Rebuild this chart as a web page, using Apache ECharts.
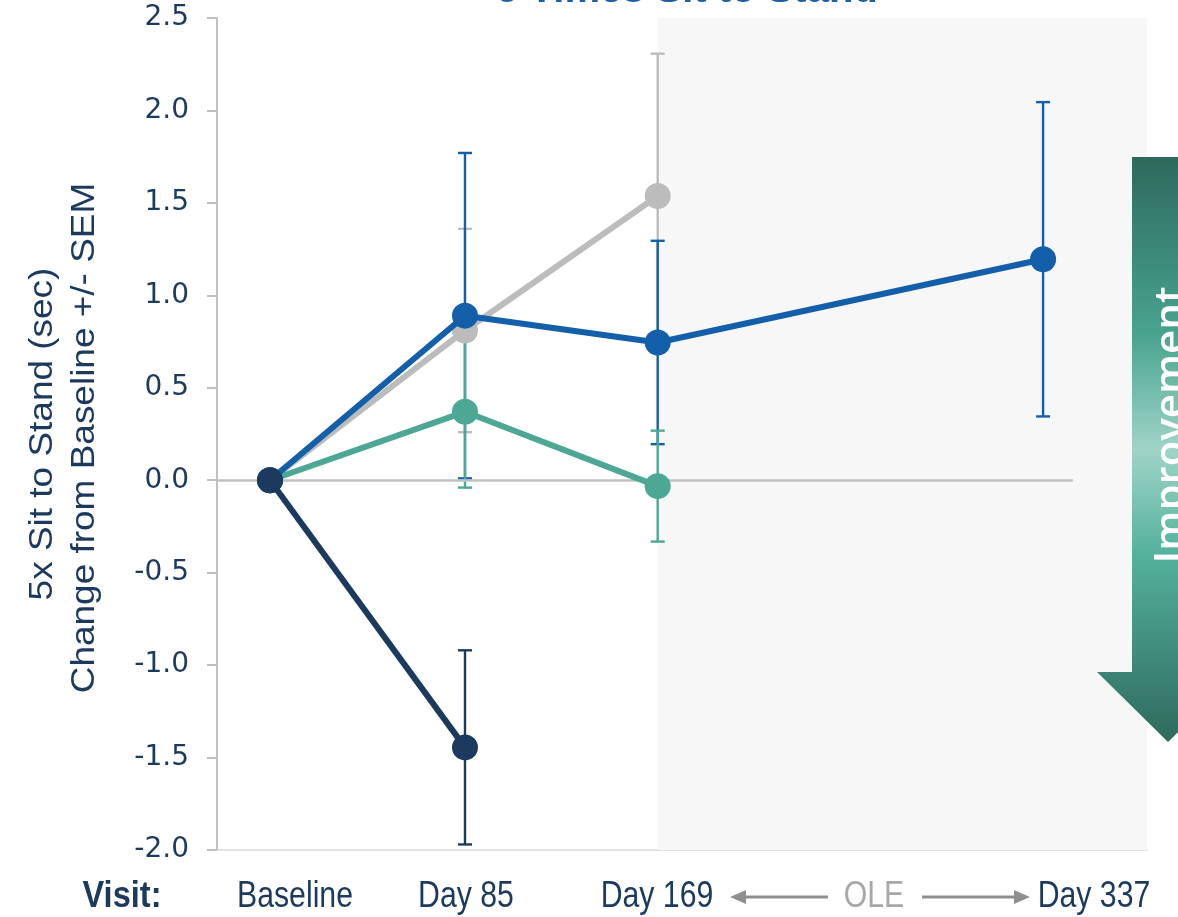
<!DOCTYPE html>
<html>
<head>
<meta charset="utf-8">
<script src="https://cdn.jsdelivr.net/npm/echarts@6/dist/echarts.min.js"></script>
<style>
  html, body { margin: 0; padding: 0; background: #ffffff; }
  #chart { width: 1178px; height: 917px; }
</style>
</head>
<body>
<div id="chart"></div>
<script>
// Visits (study day) and their labels
const visitDays = [0, 85, 169, 337];
const visitLabels = ['Baseline', 'Day 85', 'Day 169', 'Day 337'];
const oleStartDay = 169;

// Change from baseline (sec), mean and SEM per group
const navyMean = [0, -1.445];
const navySem  = [0, 0.525];
const blueMean = [0, 0.89, 0.745, 1.195];
const blueSem  = [0, 0.88, 0.55, 0.85];
const greyMean = [0, 0.81, 1.537];
const greySem  = [0, 0.55, 0.77];
const tealMean = [0, 0.37, -0.032];
const tealSem  = [0, 0.41, 0.30];

// Axis ranges
const yMin = -2.0, yMax = 2.5, yStep = 0.5;
const xMin = -23.1, xMax = 382.3, zeroLineEnd = 350;

const COL = {
  navy: '#1b3a5d',
  blue: '#145fa9',
  grey: '#bbbcbb',
  teal: '#4ca894',
  axis: '#c0c0c0',
  text: '#1b3a5d'
};

function points(mean) {
  return mean.map((v, i) => [visitDays[i], v]);
}
function bars(mean, sem) {
  return mean.map((v, i) => [visitDays[i], v - sem[i], v + sem[i]]).filter(d => d[2] > d[1]);
}

function errorSeries(name, mean, sem, color, z) {
  return {
    type: 'custom',
    name: name,
    z: z,
    silent: true,
    data: bars(mean, sem),
    renderItem: function (params, api) {
      const x = api.value(0);
      const lo = api.coord([x, api.value(1)]);
      const hi = api.coord([x, api.value(2)]);
      const cap = 7;
      const style = { stroke: color, lineWidth: 2.4 };
      return {
        type: 'group',
        children: [
          { type: 'line', shape: { x1: lo[0], y1: lo[1], x2: hi[0], y2: hi[1] }, style: style },
          { type: 'line', shape: { x1: hi[0] - cap, y1: hi[1], x2: hi[0] + cap, y2: hi[1] }, style: style },
          { type: 'line', shape: { x1: lo[0] - cap, y1: lo[1], x2: lo[0] + cap, y2: lo[1] }, style: style }
        ]
      };
    }
  };
}

function lineSeries(name, mean, color, z) {
  return {
    type: 'line',
    name: name,
    z: z,
    data: points(mean),
    symbol: 'circle',
    symbolSize: 26,
    silent: true,
    lineStyle: { color: color, width: 6 },
    itemStyle: { color: color },
    animation: false
  };
}

const chart = echarts.init(document.getElementById('chart'), null, { renderer: 'canvas' });

const gridLeft = 217, gridTop = 18, gridRight = 1178 - 1147, gridBottom = 917 - 850;

const option = {
  animation: false,
  backgroundColor: '#ffffff',
  grid: { left: gridLeft, top: gridTop, right: gridRight, bottom: gridBottom, containLabel: false },
  xAxis: {
    type: 'value',
    min: xMin,
    max: xMax,
    axisLine: { show: true, onZero: false, lineStyle: { color: '#d9d9d9', width: 1.5 } },
    axisTick: { show: false },
    axisLabel: { show: false },
    splitLine: { show: false }
  },
  yAxis: {
    type: 'value',
    min: yMin,
    max: yMax,
    interval: yStep,
    axisLine: { show: true, onZero: false, lineStyle: { color: COL.axis, width: 2 } },
    axisTick: { show: true, inside: false, length: 10, lineStyle: { color: COL.axis, width: 2 } },
    axisLabel: {
      margin: 28,
      fontFamily: 'DejaVu Sans',
      fontSize: 28,
      color: COL.text,
      formatter: v => v.toFixed(1)
    },
    splitLine: { show: false }
  },
  series: [
    {
      type: 'line',
      name: 'OLE',
      data: [],
      silent: true,
      z: 0,
      markArea: {
        silent: true,
        itemStyle: { color: '#f7f7f7' },
        data: [[{ xAxis: oleStartDay, yAxis: yMax }, { xAxis: xMax, yAxis: yMin }]]
      },
      markLine: {
        silent: true,
        symbol: 'none',
        label: { show: false },
        lineStyle: { color: COL.axis, width: 2.5, type: 'solid' },
        data: [[{ coord: [xMin, 0] }, { coord: [zeroLineEnd, 0] }]]
      }
    },
    errorSeries('Group C SEM', greyMean, greySem, COL.grey, 2),
    errorSeries('Group B SEM', blueMean, blueSem, COL.blue, 3),
    errorSeries('Group D SEM', tealMean, tealSem, COL.teal, 4),
    errorSeries('Group A SEM', navyMean, navySem, COL.navy, 5),
    lineSeries('Group C', greyMean, COL.grey, 6),
    lineSeries('Group D', tealMean, COL.teal, 7),
    lineSeries('Group B', blueMean, COL.blue, 8),
    lineSeries('Group A', navyMean, COL.navy, 9)
  ],
  graphic: []
};

chart.setOption(option);

// Annotation layer: title, axis title, visit row and the "Improvement" arrow
const labelCenters = [295, 466, 657, 1094];
const labelY = 897;
const g = [];

g.push({
  type: 'text', x: 687, y: 11, z: 20,
  style: { text: '5 Times Sit to Stand', font: 'bold 40px "Liberation Sans", Arial, sans-serif',
           fill: '#1a5fa8', align: 'center', verticalAlign: 'bottom' }
});

g.push({
  type: 'text', x: 43, y: 434, rotation: Math.PI / 2, scaleX: 1.12, z: 20,
  style: { text: '5x Sit to Stand (sec)', font: '33px "Liberation Sans", Arial, sans-serif',
           fill: COL.text, align: 'center', verticalAlign: 'middle' }
});
g.push({
  type: 'text', x: 85, y: 438, rotation: Math.PI / 2, scaleX: 1.12, z: 20,
  style: { text: 'Change from Baseline +/- SEM', font: '33px "Liberation Sans", Arial, sans-serif',
           fill: COL.text, align: 'center', verticalAlign: 'middle' }
});

g.push({
  type: 'text', x: 122, y: labelY, scaleX: 0.88, z: 20,
  style: { text: 'Visit:', font: 'bold 37px "Liberation Sans", Arial, sans-serif',
           fill: COL.text, align: 'center', verticalAlign: 'middle' }
});
visitLabels.forEach((t, i) => {
  g.push({
    type: 'text', x: labelCenters[i], y: labelY, scaleX: 0.84, z: 20,
    style: { text: t, font: '36px "Liberation Sans", Arial, sans-serif',
             fill: COL.text, align: 'center', verticalAlign: 'middle' }
  });
});

// OLE span marker on the visit row
const oleGrey = '#8f8f8f';
g.push({ type: 'line', z: 20, shape: { x1: 744, y1: labelY, x2: 828, y2: labelY }, style: { stroke: oleGrey, lineWidth: 3 } });
g.push({ type: 'polygon', z: 20, shape: { points: [[730, labelY], [746, labelY - 7], [746, labelY + 7]] }, style: { fill: oleGrey } });
g.push({ type: 'line', z: 20, shape: { x1: 922, y1: labelY, x2: 1016, y2: labelY }, style: { stroke: oleGrey, lineWidth: 3 } });
g.push({ type: 'polygon', z: 20, shape: { points: [[1030, labelY], [1014, labelY - 7], [1014, labelY + 7]] }, style: { fill: oleGrey } });
g.push({
  type: 'text', x: 874, y: labelY, scaleX: 0.84, z: 20,
  style: { text: 'OLE', font: '36px "Liberation Sans", Arial, sans-serif',
           fill: '#a8a8a8', align: 'center', verticalAlign: 'middle' }
});

// Downward "Improvement" arrow
g.push({
  type: 'polygon', z: 15,
  shape: { points: [[1132, 157], [1204, 157], [1204, 672], [1239, 672], [1168, 742], [1097, 672], [1132, 672]] },
  style: {
    fill: new echarts.graphic.LinearGradient(0, 0, 0, 1, [
      { offset: 0, color: '#2e6a5c' },
      { offset: 0.3, color: '#48a38e' },
      { offset: 0.5, color: '#9fd4c7' },
      { offset: 0.68, color: '#54b19c' },
      { offset: 1, color: '#2e6a5c' }
    ])
  }
});
g.push({
  type: 'text', x: 1172, y: 425, rotation: Math.PI / 2, z: 16,
  style: { text: 'Improvement', font: '600 42px "Open Sans", "Liberation Sans", sans-serif',
           fill: '#ffffff', align: 'center', verticalAlign: 'middle' }
});

chart.setOption({ graphic: g });
</script>
</body>
</html>
